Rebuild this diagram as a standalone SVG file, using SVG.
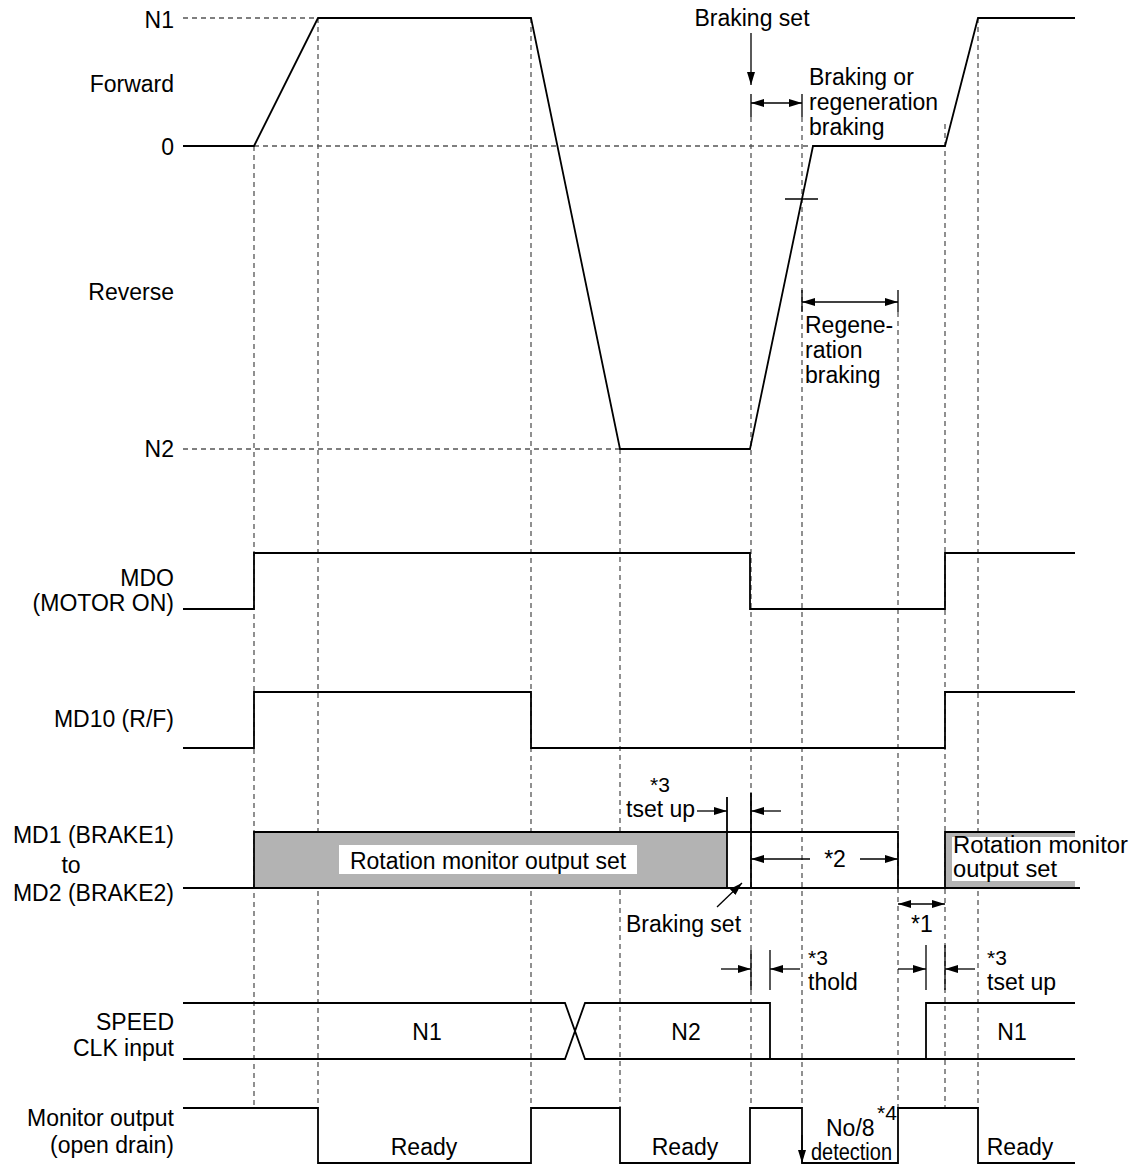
<svg xmlns="http://www.w3.org/2000/svg" width="1144" height="1168" viewBox="0 0 1144 1168">
<style>
.t{font-family:"Liberation Sans",Arial,Helvetica,sans-serif;font-size:23px;fill:#000}
.s{font-size:21px}
.e{text-anchor:end}
.m{text-anchor:middle}
.sig{fill:none;stroke:#000;stroke-width:1.8}
.thin{fill:none;stroke:#000;stroke-width:1.3}
.dash{fill:none;stroke:#555;stroke-width:1.3;stroke-dasharray:5 4}
.arr{fill:none;stroke:#000;stroke-width:1.3;marker-end:url(#ah)}
.arr2{fill:none;stroke:#000;stroke-width:1.3;marker-end:url(#ah);marker-start:url(#ahs)}
</style>
<defs>
<marker id="ah" markerUnits="userSpaceOnUse" markerWidth="14" markerHeight="10" refX="13" refY="5" orient="auto"><path d="M0,1 L13,5 L0,9 z" fill="#000"/></marker>
<marker id="ahs" markerUnits="userSpaceOnUse" markerWidth="14" markerHeight="10" refX="13" refY="5" orient="auto-start-reverse"><path d="M0,1 L13,5 L0,9 z" fill="#000"/></marker>
</defs>
<rect width="1144" height="1168" fill="#fff"/>

<g id="guides">
<path class="dash" d="M183,18H318 M183,449H620 M254,146H813"/>
<path class="dash" d="M254,146V1108 M318,18V1108 M531,18V1108 M620,449V1108 M751,117V1108 M802,117V1108 M898,312V1108 M945,124V1108 M978,18V1108"/>
</g>

<g id="labels">
<text class="t e" x="174" y="28">N1</text>
<text class="t e" x="174" y="92">Forward</text>
<text class="t e" x="174" y="155">0</text>
<text class="t e" x="174" y="300">Reverse</text>
<text class="t e" x="174" y="457">N2</text>
<text class="t e" x="174" y="586">MDO</text>
<text class="t e" x="174" y="611">(MOTOR ON)</text>
<text class="t e" x="174" y="727">MD10 (R/F)</text>
<text class="t e" x="174" y="843">MD1 (BRAKE1)</text>
<text class="t m" x="71" y="873">to</text>
<text class="t e" x="174" y="901">MD2 (BRAKE2)</text>
<text class="t e" x="174" y="1030">SPEED</text>
<text class="t e" x="174" y="1056">CLK input</text>
<text class="t e" x="174" y="1126">Monitor output</text>
<text class="t e" x="174" y="1153">(open drain)</text>
</g>

<g id="speed">
<path class="sig" d="M183,146H254L318,18H531L620,449H750L813,146H945L978,18H1075"/>
<line class="thin" x1="785" y1="199" x2="818" y2="199"/>
</g>

<g id="braking-annotations">
<text class="t m" x="752" y="26">Braking set</text>
<line class="arr" x1="751" y1="33" x2="751" y2="85"/>
<path class="thin" d="M751,94V117 M802,94V117"/>
<line class="arr2" x1="751" y1="103" x2="802" y2="103"/>
<text class="t" x="809" y="85">Braking or</text>
<text class="t" x="809" y="110">regeneration</text>
<text class="t" x="809" y="135">braking</text>
<path class="thin" d="M802,290V312 M898,290V312"/>
<line class="arr2" x1="802" y1="302" x2="898" y2="302"/>
<text class="t" x="805" y="333">Regene-</text>
<text class="t" x="805" y="358">ration</text>
<text class="t" x="805" y="383">braking</text>
</g>

<g id="mdo">
<path class="sig" d="M183,609H254V553H750V609H945V553H1075"/>
</g>

<g id="md10">
<path class="sig" d="M183,748H254V692H531V748H945V692H1075"/>
</g>

<g id="md1">
<rect x="254" y="832" width="473" height="56" fill="#b3b3b3"/>
<rect x="339" y="845" width="298" height="29" fill="#fff"/>
<text class="t m" x="488" y="869">Rotation monitor output set</text>
<rect x="945" y="832" width="130" height="56" fill="#b3b3b3"/>
<rect x="952" y="837" width="126" height="44" fill="#fff"/>
<text class="t" x="953" y="853" font-size="18" textLength="175" lengthAdjust="spacingAndGlyphs">Rotation monitor</text>
<text class="t" x="953" y="877" font-size="18" textLength="104" lengthAdjust="spacingAndGlyphs">output set</text>
<path class="sig" stroke-width="2.4" d="M183,888H254V832H898V888H945V832H1075 M254,888H1080"/>
<path class="sig" d="M727,797V888 M751,793V888"/>
<text class="t s" x="650" y="792">*3</text>
<text class="t" x="626" y="817">tset up</text>
<line class="arr" x1="697" y1="811" x2="727" y2="811"/>
<line class="arr" x1="781" y1="811" x2="751" y2="811"/>
<line class="arr" x1="810" y1="859" x2="751" y2="859"/>
<text class="t m" x="835" y="867">*2</text>
<line class="arr" x1="860" y1="859" x2="898" y2="859"/>
<text class="t" x="626" y="932">Braking set</text>
<line class="arr" x1="717" y1="907" x2="742" y2="883"/>
<line class="arr2" x1="898" y1="904" x2="945" y2="904"/>
<text class="t" x="911" y="932">*1</text>
</g>

<g id="timing-marks">
<path class="thin" d="M751,950V990 M770,950V990 M926,945V990 M945,945V990"/>
<line class="arr" x1="721" y1="969" x2="751" y2="969"/>
<line class="arr" x1="800" y1="969" x2="770" y2="969"/>
<text class="t s" x="808" y="965">*3</text>
<text class="t" x="808" y="990">thold</text>
<line class="arr" x1="898" y1="969" x2="926" y2="969"/>
<line class="arr" x1="975" y1="969" x2="945" y2="969"/>
<text class="t s" x="987" y="965">*3</text>
<text class="t" x="987" y="990">tset up</text>
</g>

<g id="speed-clk">
<path class="sig" d="M183,1003H565L585,1059H1075 M183,1059H565L585,1003H770V1059 M926,1059V1003H1075"/>
<text class="t m" x="427" y="1040">N1</text>
<text class="t m" x="686" y="1040">N2</text>
<text class="t m" x="1012" y="1040">N1</text>
</g>

<g id="monitor-output">
<path class="sig" d="M183,1108H318V1163H531V1108H620V1163H750V1108H802V1163H898V1108H978V1163H1075"/>
<line class="arr" x1="802" y1="1135" x2="802" y2="1163"/>
<text class="t m" x="424" y="1155">Ready</text>
<text class="t m" x="685" y="1155">Ready</text>
<text class="t m" x="1020" y="1155">Ready</text>
<text class="t" x="826" y="1136">No/8</text>
<text class="t s" x="877" y="1120">*4</text>
<text class="t" x="811" y="1160" font-size="16" textLength="81" lengthAdjust="spacingAndGlyphs">detection</text>
</g>
</svg>
